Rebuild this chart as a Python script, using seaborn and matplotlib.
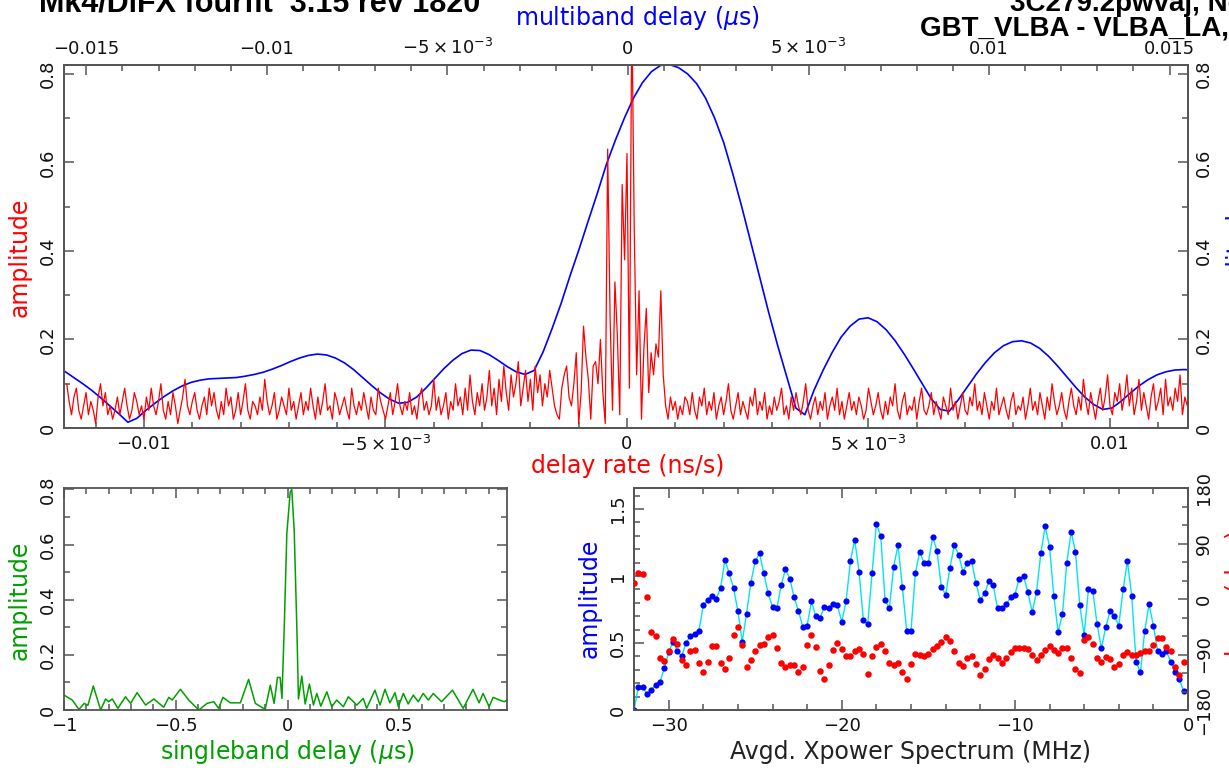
import numpy as np
import pandas as pd
import matplotlib
matplotlib.use("Agg")
import matplotlib.pyplot as plt
from matplotlib.ticker import MultipleLocator
import seaborn as sns

# ---------------- data ----------------
# delay rate spectrum (ns/s), red trace in the top panel
rate_left_start, rate_left_step = -0.0116, 0.00005
rate_left_amp = [
    0.10, 0.06, 0.03, 0.07, 0.09, 0.04, 0.02, 0.05, 0.08, 0.03, 0.06, 0.04, 0.01, 0.07, 0.10, 0.05, 0.08, 0.03, 0.05, 0.02,
    0.04, 0.07, 0.03, 0.06, 0.09, 0.05, 0.02, 0.04, 0.08, 0.06, 0.03, 0.05, 0.02, 0.07, 0.04, 0.09, 0.05, 0.03, 0.06, 0.10,
    0.04, 0.02, 0.06, 0.03, 0.08, 0.05, 0.01, 0.04, 0.07, 0.11, 0.05, 0.03, 0.06, 0.08, 0.04, 0.02, 0.05, 0.07, 0.03, 0.09,
    0.05, 0.08, 0.04, 0.02, 0.06, 0.03, 0.09, 0.05, 0.07, 0.02, 0.04, 0.08, 0.03, 0.06, 0.10, 0.04, 0.02, 0.06, 0.05, 0.03,
    0.07, 0.04, 0.11, 0.06, 0.03, 0.05, 0.08, 0.02, 0.04, 0.07, 0.05, 0.03, 0.09, 0.04, 0.06, 0.02, 0.05, 0.08, 0.03, 0.06,
    0.04, 0.09, 0.05, 0.02, 0.07, 0.03, 0.06, 0.10, 0.04, 0.05, 0.02, 0.08, 0.06, 0.03, 0.05, 0.07, 0.04, 0.02, 0.09, 0.05,
    0.03, 0.06, 0.04, 0.08, 0.05, 0.02, 0.07, 0.04, 0.03, 0.09, 0.06, 0.04, 0.02, 0.05, 0.08, 0.03, 0.06, 0.10, 0.05, 0.03,
    0.06, 0.04, 0.08, 0.03, 0.05, 0.02, 0.07, 0.09, 0.04, 0.06, 0.03, 0.05, 0.11, 0.04, 0.07, 0.03, 0.05, 0.08, 0.02, 0.06,
    0.04, 0.10, 0.05, 0.07, 0.03, 0.09, 0.04, 0.12, 0.06, 0.03, 0.08, 0.05, 0.10, 0.04, 0.07, 0.13, 0.05, 0.09, 0.03, 0.11,
    0.06, 0.14, 0.08, 0.04, 0.12, 0.07, 0.10, 0.15, 0.05, 0.09, 0.13, 0.06, 0.11, 0.04, 0.14, 0.08, 0.12, 0.05, 0.10, 0.07,
    0.13, 0.09,
]
rate_mid_start, rate_mid_step = -0.0015, 0.00005
rate_mid_amp = [
    0.05, 0.03, 0.02, 0.09, 0.12, 0.14, 0.07, 0.05, 0.10, 0.17,
    0.01, 0.08, 0.23, 0.16, 0.11, 0.02, 0.14, 0.15, 0.10, 0.20,
    0.08, 0.01, 0.63, 0.25, 0.04, 0.33, 0.21, 0.03, 0.55, 0.38,
    0.62, 0.09, 0.95, 0.45, 0.12, 0.31, 0.02, 0.18, 0.27, 0.08,
    0.17, 0.12, 0.19, 0.16, 0.31, 0.12, 0.05, 0.02, 0.07, 0.04,
    0.06, 0.02, 0.05, 0.03, 0.07,
]
rate_right_start, rate_right_step = 0.00125, 0.00005
rate_right_amp = [
    0.06, 0.03, 0.08, 0.04, 0.02, 0.07, 0.05, 0.09, 0.03, 0.06, 0.04, 0.08, 0.02, 0.05, 0.07, 0.03, 0.06, 0.10, 0.04, 0.02,
    0.05, 0.08, 0.03, 0.06, 0.04, 0.02, 0.07, 0.05, 0.09, 0.03, 0.06, 0.04, 0.08, 0.02, 0.05, 0.03, 0.07, 0.04, 0.06, 0.09,
    0.03, 0.05, 0.02, 0.07, 0.04, 0.08, 0.05, 0.03, 0.06, 0.10, 0.04, 0.02, 0.05, 0.07, 0.03, 0.06, 0.04, 0.08, 0.02, 0.05,
    0.07, 0.04, 0.09, 0.03, 0.06, 0.02, 0.05, 0.08, 0.04, 0.06, 0.03, 0.07, 0.05, 0.02, 0.04, 0.09, 0.06, 0.03, 0.05, 0.08,
    0.04, 0.02, 0.06, 0.03, 0.07, 0.05, 0.10, 0.04, 0.02, 0.06, 0.08, 0.03, 0.05, 0.04, 0.07, 0.02, 0.06, 0.09, 0.04, 0.03,
    0.05, 0.08, 0.03, 0.06, 0.04, 0.02, 0.07, 0.05, 0.03, 0.09, 0.04, 0.06, 0.02, 0.05, 0.08, 0.04, 0.03, 0.07, 0.05, 0.10,
    0.04, 0.06, 0.03, 0.08, 0.05, 0.02, 0.06, 0.04, 0.09, 0.03, 0.05, 0.07, 0.04, 0.02, 0.06, 0.08, 0.03, 0.05, 0.04, 0.07,
    0.02, 0.05, 0.09, 0.04, 0.06, 0.03, 0.08, 0.05, 0.02, 0.07, 0.04, 0.10, 0.06, 0.03, 0.05, 0.08, 0.04, 0.02, 0.06, 0.09,
    0.05, 0.03, 0.07, 0.04, 0.11, 0.06, 0.03, 0.08, 0.05, 0.02, 0.06, 0.09, 0.04, 0.07, 0.12, 0.05, 0.03, 0.08, 0.06, 0.10,
    0.04, 0.07, 0.12, 0.05, 0.09, 0.03, 0.06, 0.11, 0.04, 0.08, 0.05, 0.02, 0.07, 0.10, 0.04, 0.06, 0.09, 0.03, 0.11, 0.05,
    0.07, 0.04, 0.09, 0.06, 0.12, 0.03, 0.07, 0.05,
]

# multiband delay (us), blue curve in the top panel, read every 0.00025 us
mbd_start, mbd_step = -0.0156, 0.00025
mbd_amp = [
    0.128, 0.114, 0.100, 0.085, 0.068, 0.050, 0.032, 0.013, 0.022, 0.040,
    0.056, 0.071, 0.084, 0.095, 0.103, 0.108, 0.111, 0.112, 0.113, 0.114,
    0.117, 0.121, 0.126, 0.133, 0.141, 0.150, 0.158, 0.164, 0.167, 0.165,
    0.158, 0.147, 0.132, 0.114, 0.096, 0.079, 0.065, 0.056, 0.058, 0.070,
    0.090, 0.112, 0.134, 0.153, 0.168, 0.176, 0.175, 0.166, 0.153, 0.139,
    0.127, 0.121, 0.130, 0.172, 0.225, 0.282, 0.345, 0.405, 0.468, 0.530,
    0.595, 0.650, 0.700, 0.745, 0.780, 0.805, 0.819, 0.821, 0.814, 0.800,
    0.778, 0.745, 0.700, 0.645, 0.575, 0.500, 0.420, 0.340, 0.260, 0.185,
    0.115, 0.045, 0.030, 0.085, 0.130, 0.170, 0.205, 0.230, 0.246, 0.249,
    0.240, 0.222, 0.197, 0.167, 0.134, 0.100, 0.066, 0.042, 0.038, 0.064,
    0.093, 0.122, 0.148, 0.170, 0.186, 0.195, 0.197, 0.192, 0.180, 0.162,
    0.140, 0.116, 0.092, 0.070, 0.053, 0.042, 0.045, 0.060, 0.078, 0.095,
    0.109, 0.120, 0.127, 0.131, 0.132, 0.131,
]

# singleband delay (us), green curve
sbd_delay = [
    -1.0, -0.963, -0.933, -0.91, -0.893, -0.869, -0.836, -0.814, -0.80, -0.784,
    -0.759, -0.725, -0.702, -0.673, -0.635, -0.598, -0.554, -0.531, -0.516, -0.479,
    -0.442, -0.397, -0.36, -0.33, -0.308, -0.289, -0.256, -0.211, -0.174, -0.144,
    -0.10, -0.077, -0.06, -0.045, -0.033, -0.025, -0.015, -0.003, 0.012, 0.019,
    0.03, 0.042, 0.049, 0.064, 0.079, 0.098, 0.116, 0.131, 0.149, 0.176,
    0.198, 0.22, 0.25, 0.272, 0.31, 0.339, 0.354, 0.391, 0.414, 0.436,
    0.458, 0.481, 0.496, 0.518, 0.54, 0.563, 0.585, 0.607, 0.63, 0.652,
    0.689, 0.738, 0.786, 0.83, 0.857, 0.875, 0.902, 0.92, 0.949, 0.97,
    0.982,
]
sbd_amp = [
    0.054, 0.036, 0.002, 0.024, 0.017, 0.087, 0.0, 0.040, 0.030, 0.040,
    0.006, 0.048, 0.024, 0.063, 0.018, 0.040, 0.010, 0.046, 0.036, 0.075,
    0.036, 0.0, 0.024, 0.030, 0.006, 0.046, 0.026, 0.026, 0.111, 0.024,
    0.002, 0.090, 0.024, 0.118, 0.118, 0.042, 0.290, 0.640, 0.790, 0.800,
    0.650, 0.290, 0.040, 0.123, 0.022, 0.094, 0.018, 0.060, 0.014, 0.066,
    0.012, 0.036, 0.012, 0.048, 0.018, 0.042, 0.006, 0.072, 0.018, 0.075,
    0.026, 0.063, 0.012, 0.060, 0.022, 0.054, 0.030, 0.060, 0.036, 0.060,
    0.030, 0.072, 0.006, 0.075, 0.026, 0.060, 0.012, 0.046, 0.036, 0.030,
    0.036,
]

# averaged cross-power spectrum: 128 channels of 0.25 MHz from -32 MHz
xp_start, xp_step = -32.0, 0.25
xp_amp = [
    0.00, 0.17, 0.17, 0.12, 0.15, 0.19, 0.21, 0.31, 0.43, 0.51,
    0.44, 0.40, 0.50, 0.55, 0.57, 0.59, 0.78, 0.82, 0.85, 0.83,
    0.91, 1.12, 1.02, 0.91, 0.74, 0.51, 0.72, 0.95, 1.11, 1.17,
    1.02, 0.87, 0.77, 0.76, 0.93, 1.05, 0.98, 0.84, 0.74, 0.62,
    0.63, 0.81, 0.70, 0.69, 0.77, 0.76, 0.79, 0.78, 0.66, 0.81,
    1.11, 1.27, 1.03, 0.67, 0.64, 1.02, 1.39, 1.30, 0.82, 0.76,
    1.07, 1.23, 0.92, 0.59, 0.59, 1.02, 1.18, 1.10, 1.10, 1.29,
    1.19, 0.92, 0.86, 1.06, 1.23, 1.16, 1.03, 1.10, 1.11, 0.95,
    0.82, 0.87, 0.96, 0.93, 0.76, 0.76, 0.79, 0.84, 0.86, 0.98,
    1.00, 0.88, 0.73, 0.88, 1.17, 1.37, 1.22, 0.85, 0.58, 0.72,
    1.10, 1.33, 1.18, 0.78, 0.56, 0.90, 0.89, 0.64, 0.46, 0.62,
    0.74, 0.70, 0.63, 0.90, 1.11, 0.85, 0.36, 0.28, 0.59, 0.79,
    0.63, 0.44, 0.42, 0.44, 0.36, 0.28, 0.23, 0.14,
]
xp_phase = [
    26, 42, 40, 4, -54, -60, -96, -100, -85, -65,
    -73, -99, -107, -85, -83, -104, -119, -102, -77, -76,
    -104, -114, -96, -59, -45, -74, -110, -99, -84, -74,
    -73, -61, -59, -79, -104, -110, -107, -107, -119, -110,
    -74, -58, -78, -116, -129, -107, -83, -72, -81, -93,
    -93, -84, -81, -89, -122, -93, -78, -73, -84, -104,
    -107, -104, -118, -130, -106, -89, -91, -93, -89, -81,
    -77, -70, -61, -68, -85, -103, -108, -95, -92, -105,
    -123, -114, -98, -91, -96, -103, -96, -86, -79, -79,
    -79, -81, -90, -99, -91, -83, -76, -83, -88, -79,
    -79, -95, -113, -120, -66, -61, -73, -96, -102, -94,
    -98, -111, -106, -91, -86, -90, -90, -88, -84, -84,
    -75, -64, -64, -78, -84, -111, -123, -102,
]

# ---------------- build tables ----------------
rate = pd.DataFrame({
    "rate": np.concatenate([
        rate_left_start + rate_left_step * np.arange(len(rate_left_amp)),
        rate_mid_start + rate_mid_step * np.arange(len(rate_mid_amp)),
        rate_right_start + rate_right_step * np.arange(len(rate_right_amp)),
    ]),
    "amp": rate_left_amp + rate_mid_amp + rate_right_amp,
})
mbd = pd.DataFrame({"delay": mbd_start + mbd_step * np.arange(len(mbd_amp)),
                    "amp": mbd_amp})
sbd = pd.DataFrame({"delay": sbd_delay, "amp": sbd_amp})
xp = pd.DataFrame({
    "freq": xp_start + xp_step * np.arange(len(xp_amp)),
    "amp": xp_amp,
    "phase": xp_phase,
})

# ---------------- figure ----------------
sns.set_style("ticks")
plt.rcParams["font.family"] = ["DejaVu Sans"]

W, H = 1229, 771
fig = plt.figure(figsize=(W / 100, H / 100), dpi=100)
FRAME = "#555555"


def px_box(left, top, right, bottom):
    return [left / W, 1 - bottom / H, (right - left) / W, (bottom - top) / H]


def put(x, y, s, **kw):
    kw.setdefault("ha", "center")
    kw.setdefault("va", "center")
    fig.text(x / W, 1 - y / H, s, **kw)


def style(a):
    a.tick_params(which="both", direction="in", color=FRAME, width=1.1,
                  labelsize=13, labelcolor="#111111")
    a.tick_params(which="major", length=7, pad=5)
    a.tick_params(which="minor", length=4)
    for s in a.spines.values():
        s.set_color(FRAME)
        s.set_linewidth(1.3)
        s.set_visible(True)
    a.set_xlabel("")
    a.set_ylabel("")


def rotate_y(a):
    a.tick_params(axis="y", labelrotation=90)
    for lab in a.get_yticklabels():
        lab.set_va("center")


sci = {-0.005: r"$-5\times10^{-3}$", 0.005: r"$5\times10^{-3}$"}


def fmt(v):
    if v in sci:
        return sci[v]
    return ("%g" % v).replace("-", "\u2212")


# top panel: delay rate (bottom axis) and multiband delay (top axis)
ax = fig.add_axes(px_box(64, 65, 1188, 428))
ax2 = ax.twiny()
sns.lineplot(data=mbd, x="delay", y="amp", ax=ax2, color="#0000ff", lw=1.2,
             estimator=None, sort=False)
sns.lineplot(data=rate, x="rate", y="amp", ax=ax, color="#ff0000", lw=0.9,
             estimator=None, sort=False)
ax.set_zorder(ax2.get_zorder() + 1)
ax.patch.set_visible(False)

ax.set_xlim(-0.011656, 0.011615)
ax.set_ylim(0, 0.82)
ax2.set_xlim(-0.01562, 0.01551)
rate_ticks = [-0.01, -0.005, 0, 0.005, 0.01]
ax.set_xticks(rate_ticks, [fmt(v) for v in rate_ticks])
ax.xaxis.set_minor_locator(MultipleLocator(0.001))
amp_ticks = [0, 0.2, 0.4, 0.6, 0.8]
ax.set_yticks(amp_ticks, [fmt(v) for v in amp_ticks])
ax.yaxis.set_minor_locator(MultipleLocator(0.1))
mbd_ticks = [-0.015, -0.01, -0.005, 0, 0.005, 0.01, 0.015]
ax2.set_xticks(mbd_ticks, [fmt(v) for v in mbd_ticks])
ax2.xaxis.set_minor_locator(MultipleLocator(0.001))
style(ax)
style(ax2)
ax.tick_params(axis="x", which="both", top=False)
ax.tick_params(axis="y", which="both", left=True, right=True,
               labelleft=True, labelright=True)
ax2.tick_params(axis="x", which="both", top=True, bottom=False,
                labeltop=True, labelbottom=False)
rotate_y(ax)

# bottom left: singleband delay
axs = fig.add_axes(px_box(64, 488, 507, 710))
sns.lineplot(data=sbd, x="delay", y="amp", ax=axs, color="#00a000", lw=1.1,
             estimator=None, sort=False)
axs.set_xlim(-1, 0.982)
axs.set_ylim(0, 0.805)
sbd_ticks = [-1, -0.5, 0, 0.5]
axs.set_xticks(sbd_ticks, [fmt(v) for v in sbd_ticks])
axs.xaxis.set_minor_locator(MultipleLocator(0.1))
axs.set_yticks(amp_ticks, [fmt(v) for v in amp_ticks])
axs.yaxis.set_minor_locator(MultipleLocator(0.1))
style(axs)
axs.tick_params(which="both", top=True, right=True)
rotate_y(axs)

# bottom right: averaged cross-power spectrum, amplitude and phase
axa = fig.add_axes(px_box(634, 488, 1188, 710))
axp = axa.twinx()
sns.lineplot(data=xp, x="freq", y="amp", ax=axa, color="#00e5ee", lw=1.0,
             estimator=None, sort=False)
sns.scatterplot(data=xp, x="freq", y="amp", ax=axa, color="#0000ff", s=20,
                linewidth=0, zorder=3)
sns.scatterplot(data=xp, x="freq", y="phase", ax=axp, color="#ff0000", s=22,
                linewidth=0, zorder=3)
axa.set_xlim(-32, 0)
axa.set_ylim(0, 1.657)
axp.set_ylim(-180, 180)
fr_ticks = [-30, -20, -10, 0]
axa.set_xticks(fr_ticks, [fmt(v) for v in fr_ticks])
axa.xaxis.set_minor_locator(MultipleLocator(2))
xa_ticks = [0, 0.5, 1, 1.5]
axa.set_yticks(xa_ticks, [fmt(v) for v in xa_ticks])
axa.yaxis.set_minor_locator(MultipleLocator(0.1))
ph_ticks = [-180, -90, 0, 90, 180]
axp.set_yticks(ph_ticks, [fmt(v) for v in ph_ticks])
axp.yaxis.set_minor_locator(MultipleLocator(30))
style(axa)
style(axp)
axa.tick_params(which="both", top=True)
axa.tick_params(axis="y", which="both", right=False)
rotate_y(axa)
rotate_y(axp)

# axis titles, placed as on the original page
put(638, 18, r"multiband delay ($\mu$s)", color="#0000ff", fontsize=17)
put(628, 466, "delay rate (ns/s)", color="#ff0000", fontsize=17)
put(20, 257, "amplitude", color="#ff0000", fontsize=17, rotation=90)
put(1237, 257, "amplitude", color="#0000ff", fontsize=17, rotation=90)
put(20, 600, "amplitude", color="#00a000", fontsize=17, rotation=90)
put(287, 752, r"singleband delay ($\mu$s)", color="#00a000", fontsize=17)
put(590, 598, "amplitude", color="#0000ff", fontsize=17, rotation=90)
put(910, 752, "Avgd. Xpower Spectrum (MHz)", color="#222222", fontsize=17)
put(1237, 600, "phase (deg)", color="#ff0000", fontsize=17, rotation=90)

# page header (cut by the top edge in the source image)
bold = dict(fontweight="bold", family=["Liberation Sans", "DejaVu Sans"],
            va="baseline", color="black")
put(480, 11, "Mk4/DiFX fourfit  3.15 rev 1820", ha="right", fontsize=22, **bold)
put(1010, 11, "3C279.2pwvaj, No0005", ha="left", fontsize=20, **bold)
put(920, 36, "GBT_VLBA - VLBA_LA, fgroup X, pol RR", ha="left", fontsize=20, **bold)

fig.savefig("out.png", dpi=100)
